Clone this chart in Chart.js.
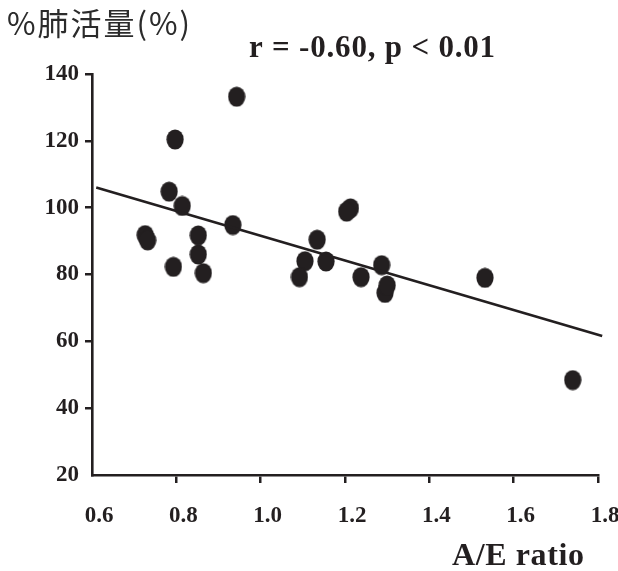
<!DOCTYPE html>
<html>
<head>
<meta charset="utf-8">
<script src="https://cdn.jsdelivr.net/npm/chart.js@4.4.1/dist/chart.umd.min.js"></script>
<style>
  html, body { margin: 0; padding: 0; background: #ffffff; }
  #wrap { width: 618px; height: 571px; position: relative; }
</style>
</head>
<body>
<div id="wrap"><canvas id="c" width="618" height="571"></canvas></div>
<script>
// ---- data ----
const aeRatio = [0.943, 0.797, 0.783, 0.814, 0.934, 0.726, 0.732, 0.852, 0.852, 0.793, 0.864,
                 1.213, 1.204, 1.134, 1.105, 1.092, 1.155, 1.238, 1.287, 1.295, 1.300, 1.532, 1.740];
const vcPercent = [133.2, 120.4, 104.8, 100.5, 94.8, 91.8, 90.2, 91.7, 86.0, 82.3, 80.4,
                   99.8, 98.8, 90.4, 84.0, 79.2, 83.9, 79.2, 82.8, 74.5, 76.7, 79.0, 48.4];
const fitX = [0.61, 1.81];
const fitY = [106.0, 61.6];
const xTickLabels = ['0.6', '0.8', '1.0', '1.2', '1.4', '1.6', '1.8'];
const yTickLabels = ['20', '40', '60', '80', '100', '120', '140'];
const yTitle = '%肺活量(%)';
const statText = 'r = -0.60, p < 0.01';
const xTitle = 'A/E ratio';

// ---- styling ----
const INK = '#231f20';
const serifBold = (size) => ({ family: '"Liberation Serif", "Times New Roman", serif', size: size, weight: 'bold' });

// elliptical marker
const marker = document.createElement('canvas');
marker.width = 18; marker.height = 21;
(function () {
  const m = marker.getContext('2d');
  m.fillStyle = INK;
  m.beginPath();
  m.ellipse(9, 10.5, 8.6, 10.1, 0, 0, Math.PI * 2);
  m.fill();
})();

const scatterData = aeRatio.map((x, i) => ({ x: x, y: vcPercent[i] }));
const fitData = fitX.map((x, i) => ({ x: x, y: fitY[i] }));

const textPlugin = {
  id: 'texts',
  afterDraw(chart) {
    const ctx = chart.ctx;
    ctx.save();
    ctx.fillStyle = '#2b2b2b';
    ctx.textAlign = 'left';
    ctx.textBaseline = 'alphabetic';
    ctx.font = 'normal 31px "Noto Sans CJK JP", sans-serif';
    if ('letterSpacing' in ctx) ctx.letterSpacing = '2px';
    ctx.fillText(yTitle, 7, 35);

    ctx.fillStyle = INK;
    ctx.font = 'bold 31px "Liberation Serif", serif';
    if ('letterSpacing' in ctx) ctx.letterSpacing = '0.8px';
    ctx.textAlign = 'left';
    ctx.fillText(statText, 249, 57);

    ctx.font = 'bold 32px "Liberation Serif", serif';
    if ('letterSpacing' in ctx) ctx.letterSpacing = '0.6px';
    ctx.textAlign = 'left';
    ctx.fillText(xTitle, 452, 565);
    ctx.restore();
  }
};

const tickColor = (ctx) => (ctx.index === 0 ? 'rgba(0,0,0,0)' : INK);

new Chart(document.getElementById('c'), {
  type: 'scatter',
  data: {
    datasets: [
      {
        type: 'line',
        data: fitData,
        borderColor: INK,
        borderWidth: 2.6,
        pointRadius: 0,
        fill: false,
        tension: 0,
        clip: false,
        order: 0
      },
      {
        data: scatterData,
        pointStyle: marker,
        pointRadius: 9,
        backgroundColor: INK,
        borderColor: INK,
        order: 1
      }
    ]
  },
  options: {
    responsive: false,
    animation: false,
    events: [],
    layout: { padding: { top: 74, right: 20, bottom: 0, left: 0 } },
    plugins: {
      legend: { display: false },
      tooltip: { enabled: false },
      title: { display: false }
    },
    scales: {
      x: {
        type: 'linear',
        min: 0.6,
        max: 1.8,
        afterFit: (s) => { s.height = 96; s.paddingRight = 0; },
        afterBuildTicks: (s) => { s.ticks = xTickLabels.map(t => ({ value: parseFloat(t) })); },
        ticks: {
          callback: (v, i) => xTickLabels[i],
          font: serifBold(23),
          color: INK,
          padding: 19,
          labelOffset: 7,
          maxRotation: 0,
          autoSkip: false
        },
        grid: {
          display: true,
          drawOnChartArea: false,
          drawTicks: true,
          tickLength: 8,
          lineWidth: 2.5,
          color: tickColor
        },
        border: { display: true, color: INK, width: 2.6 }
      },
      y: {
        type: 'linear',
        min: 20,
        max: 140,
        afterFit: (s) => { s.width = 92; },
        afterBuildTicks: (s) => { s.ticks = yTickLabels.map(t => ({ value: parseFloat(t) })); },
        ticks: {
          callback: (v, i) => yTickLabels[i],
          font: serifBold(23),
          color: INK,
          padding: 6,
          autoSkip: false
        },
        grid: {
          display: true,
          drawOnChartArea: false,
          drawTicks: true,
          tickLength: 7,
          lineWidth: 2.5,
          color: tickColor
        },
        border: { display: true, color: INK, width: 2.6 }
      }
    }
  },
  plugins: [textPlugin]
});
</script>
</body>
</html>
